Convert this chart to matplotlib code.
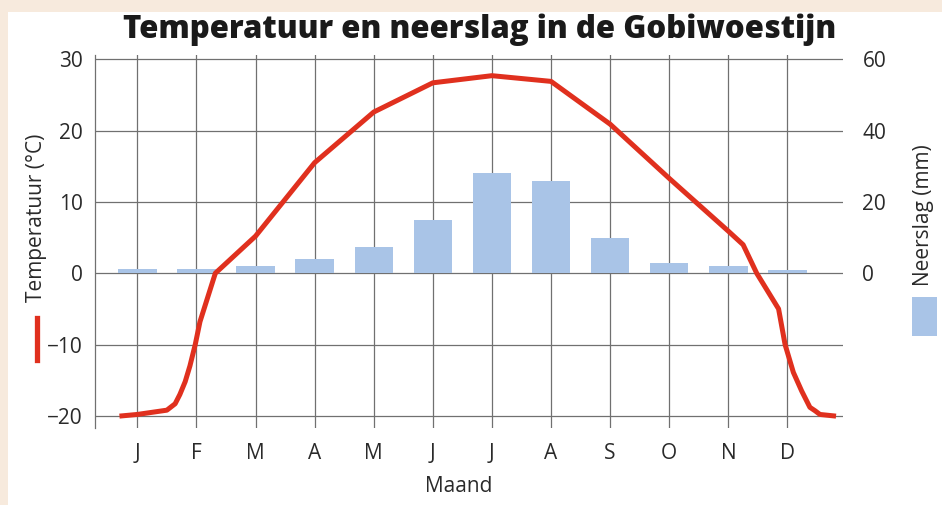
import matplotlib
matplotlib.use('Agg')
import matplotlib.pyplot as plt
from matplotlib.patches import Rectangle
from matplotlib.lines import Line2D

plt.rcParams['font.family'] = ['Open Sans', 'DejaVu Sans']

# data
maanden = ['J', 'F', 'M', 'A', 'M', 'J', 'J', 'A', 'S', 'O', 'N', 'D']
maand_pos = list(range(1, 13))
neerslag = [1.2, 1.2, 2.0, 3.9, 7.4, 15.0, 28.0, 25.9, 9.8, 2.9, 1.9, 0.9]  # mm

# temperature curve (month position, degrees C)
temp_x = [0.74, 1.0, 1.5, 1.64, 1.72, 1.81, 1.89, 1.98, 2.06, 2.32, 3, 4, 5, 6, 7, 8, 9, 10,
          11, 11.25, 11.48, 11.85, 11.96, 12.1, 12.24, 12.38, 12.47, 12.55, 12.78]
temp_y = [-20, -19.8, -19.2, -18.3, -17, -15.2, -13, -10, -6.8, 0, 5.2, 15.5, 22.6, 26.7, 27.7,
          26.9, 20.9, 13.3, 5.9, 4.0, 0, -5.0, -10, -13.9, -16.5, -18.8, -19.3, -19.8, -20]

rood = '#e0301e'
blauw = '#a9c4e7'
grijs = '#707070'
tekst = '#2a2a2a'

fig = plt.figure(figsize=(9.42, 5.05), dpi=100)
fig.patch.set_facecolor('#f7eadd')
fig.add_artist(Rectangle((8 / 942, 0), 1, (505 - 12) / 505, transform=fig.transFigure,
                         facecolor='white', edgecolor='none', zorder=-10))

ax = fig.add_axes([95 / 942, 1 - 428 / 505, (843 - 95) / 942, (428 - 55) / 505])
ax.set_facecolor('none')
ax.set_xlim(0.284, 12.94)
ax.set_ylim(-21.7, 30.6)
ax2 = ax.twinx()
ax2.set_ylim(-43.4, 61.2)

# bars in mm, drawn on the temperature axes so the line stays on top
ax.bar(maand_pos, neerslag, width=0.65, color=blauw, transform=ax2.transData, zorder=2)
ax.plot(temp_x, temp_y, color=rood, lw=3.6, solid_joinstyle='round', zorder=3, clip_on=False)

ax.set_xticks(maand_pos, maanden)
ax.set_yticks([-20, -10, 0, 10, 20, 30])
ax.grid(True, color=grijs, lw=0.9)
ax.set_axisbelow(True)
ax.tick_params(axis='x', length=0, pad=11, labelsize=15, labelcolor=tekst)
ax.tick_params(axis='y', length=0, pad=9, labelsize=15, labelcolor=tekst)
for s in ['top', 'right', 'bottom']:
    ax.spines[s].set_visible(False)
ax.spines['left'].set_color(grijs)
ax.spines['left'].set_linewidth(0.9)

ax2.set_yticks([0, 20, 40, 60])
ax2.tick_params(length=0, pad=14, labelsize=15, labelcolor=tekst)
for s in ax2.spines.values():
    s.set_visible(False)

fig.text(480 / 942, 1 - 30 / 505, 'Temperatuur en neerslag in de Gobiwoestijn',
         fontsize=22.5, fontweight='heavy', ha='center', va='center', color='#1a1a1a')
fig.text(459 / 942, 1 - 487 / 505, 'Maand', fontsize=15, ha='center', va='center', color=tekst)

fig.text(37 / 942, 1 - 218 / 505, 'Temperatuur (°C)', rotation=90, fontsize=15,
         ha='center', va='center', color=tekst)
fig.add_artist(Line2D([37 / 942, 37 / 942], [1 - 318 / 505, 1 - 360 / 505], color=rood, lw=3.8))

fig.text(923 / 942, 1 - 215 / 505, 'Neerslag (mm)', rotation=90, fontsize=15,
         ha='center', va='center', color=tekst)
fig.add_artist(Rectangle((912 / 942, 1 - 336 / 505), 25 / 942, 39 / 505, transform=fig.transFigure,
                         facecolor=blauw, edgecolor='none'))

fig.savefig('out.png', dpi=100)
